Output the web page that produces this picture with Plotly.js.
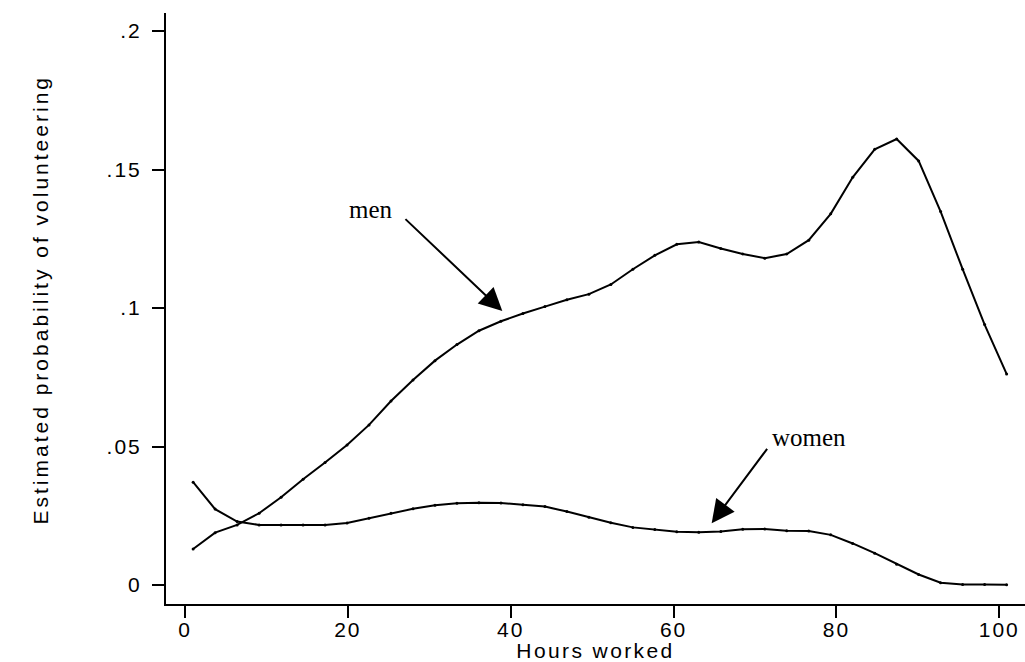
<!DOCTYPE html>
<html>
<head>
<meta charset="utf-8">
<script src="https://cdn.plot.ly/plotly-3.0.1.min.js"></script>
<style>
  html, body { margin: 0; padding: 0; background: #fff; }
  #chart { width: 1025px; height: 662px; }
  g.xtick text, g.ytick text { letter-spacing: 2px; }
  text.xtitle { letter-spacing: 2.4px; }
  g.annotation[data-index="4"] text { letter-spacing: 3px; }
</style>
</head>
<body>
<div id="chart"></div>
<script>
// Hours worked (evaluation points)
const hours = [1, 3.7, 6.4, 9.1, 11.8, 14.5, 17.2, 19.9, 22.6, 25.3,
               28, 30.7, 33.4, 36.1, 38.8, 41.5, 44.2, 46.9, 49.6, 52.3,
               55, 57.7, 60.4, 63.1, 65.8, 68.5, 71.2, 73.9, 76.6, 79.3,
               82, 84.7, 87.4, 90.1, 92.8, 95.5, 98.2, 100.9];

const menProb = [0.0130, 0.0189, 0.0217, 0.0259, 0.0317, 0.0382, 0.0442, 0.0505, 0.0578, 0.0664,
                 0.0740, 0.0810, 0.0868, 0.0918, 0.0952, 0.0980, 0.1005, 0.1030, 0.1050, 0.1085,
                 0.1140, 0.1190, 0.1230, 0.1238, 0.1215, 0.1195, 0.1180, 0.1195, 0.1245, 0.1340,
                 0.1472, 0.1573, 0.1610, 0.1531, 0.1348, 0.1140, 0.0940, 0.0762];

const womenProb = [0.0371, 0.0274, 0.0229, 0.0217, 0.0217, 0.0217, 0.0217, 0.0224, 0.0241, 0.0259,
                   0.0275, 0.0288, 0.0295, 0.0297, 0.0296, 0.0290, 0.0283, 0.0265, 0.0245, 0.0225,
                   0.0208, 0.0200, 0.0192, 0.0190, 0.0193, 0.0201, 0.0202, 0.0196, 0.0195, 0.0181,
                   0.0150, 0.0115, 0.0075, 0.0038, 0.0008, 0.0002, 0.0002, 0.0001];

const xTickVals = [0, 20, 40, 60, 80, 100];
const xTickText = ['0', '20', '40', '60', '80', '100'];
const yTickVals = [0, 0.05, 0.1, 0.15, 0.2];
const yTickText = ['0', '.05', '.1', '.15', '.2'];

const seriesNames = ['men', 'women'];
const xTitle = 'Hours worked';
const yTitle = 'Estimated probability of volunteering';

const lineStyle = { color: '#000', width: 2 };
const markerStyle = { color: '#000', size: 3 };

const traces = [
  { x: hours, y: menProb, name: seriesNames[0], mode: 'lines+markers', line: lineStyle, marker: markerStyle, hoverinfo: 'x+y' },
  { x: hours, y: womenProb, name: seriesNames[1], mode: 'lines+markers', line: lineStyle, marker: markerStyle, hoverinfo: 'x+y' }
];

const sans = 'Liberation Sans, Arial, Helvetica, sans-serif';
const serif = 'Liberation Serif, Times New Roman, serif';

const layout = {
  width: 1025, height: 662,
  margin: { l: 166, r: 0, t: 13, b: 58, pad: 0 },
  paper_bgcolor: '#fff', plot_bgcolor: '#fff',
  showlegend: false,
  font: { family: sans, size: 21, color: '#000' },
  xaxis: {
    range: [-2.333, 103.16],
    tickmode: 'array', tickvals: xTickVals, ticktext: xTickText,
    showgrid: false, zeroline: false,
    showline: true, linecolor: '#000', linewidth: 2,
    ticks: 'outside', ticklen: 12, tickwidth: 2, tickcolor: '#000',
    ticklabelstandoff: -6,
    tickfont: { family: sans, size: 21, color: '#000' },
    title: { text: xTitle, font: { family: sans, size: 21, color: '#000' }, standoff: 9 }
  },
  yaxis: {
    range: [-0.00686, 0.2065],
    tickmode: 'array', tickvals: yTickVals, ticktext: yTickText,
    showgrid: false, zeroline: false,
    showline: true, linecolor: '#000', linewidth: 2,
    ticks: 'outside', ticklen: 12, tickwidth: 2, tickcolor: '#000',
    ticklabelstandoff: 6,
    tickfont: { family: sans, size: 21, color: '#000' }
  },
  annotations: [
    { x: 22.84, y: 0.1357, xref: 'x', yref: 'y', text: seriesNames[0], showarrow: false,
      font: { family: serif, size: 25, color: '#000' } },
    { x: 76.6, y: 0.0531, xref: 'x', yref: 'y', text: seriesNames[1], showarrow: false,
      font: { family: serif, size: 25, color: '#000' } },
    { x: 38.97, y: 0.0989, xref: 'x', yref: 'y', ax: 26.89, ay: 0.1326, axref: 'x', ayref: 'y',
      text: '', showarrow: true, arrowhead: 2, arrowsize: 2.3, arrowwidth: 2, arrowcolor: '#000' },
    { x: 64.68, y: 0.0223, xref: 'x', yref: 'y', ax: 71.63, ay: 0.0497, axref: 'x', ayref: 'y',
      text: '', showarrow: true, arrowhead: 2, arrowsize: 2.3, arrowwidth: 2, arrowcolor: '#000' },
    { x: -0.1467, y: 0.516, xref: 'paper', yref: 'paper', xanchor: 'center', yanchor: 'middle',
      text: yTitle, textangle: -90, showarrow: false,
      font: { family: sans, size: 21, color: '#000' } }
  ]
};

Plotly.newPlot('chart', traces, layout, { displayModeBar: false, staticPlot: true });
</script>
</body>
</html>
